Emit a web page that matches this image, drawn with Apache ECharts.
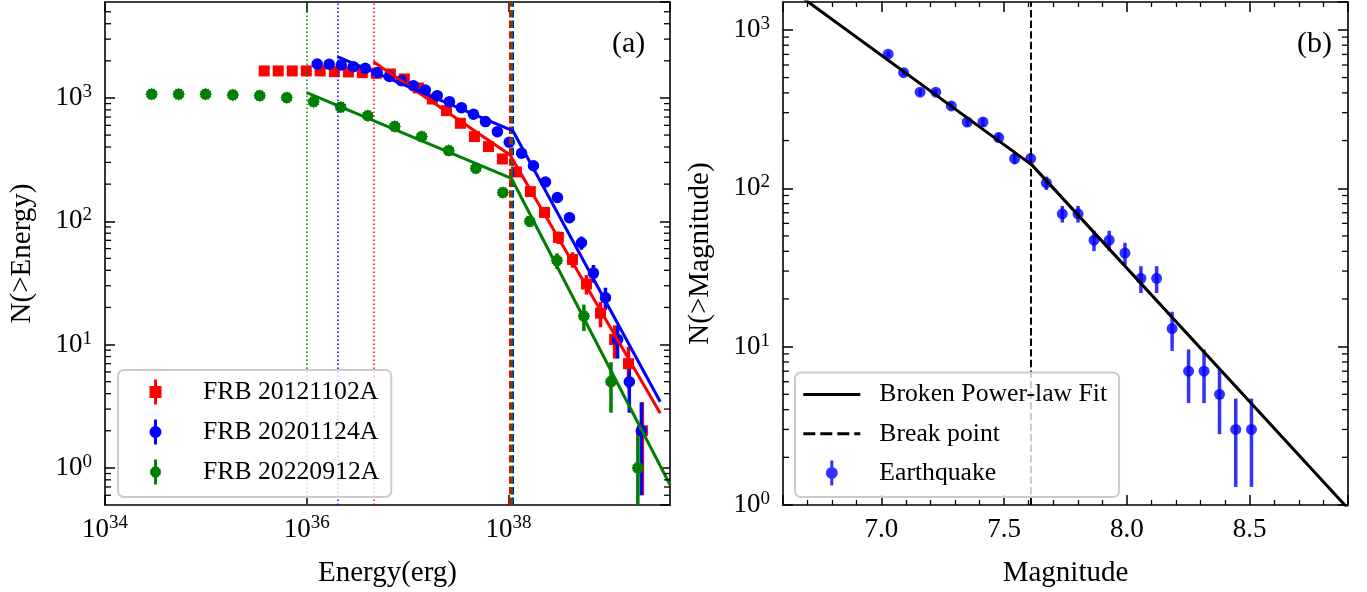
<!DOCTYPE html>
<html>
<head>
<meta charset="utf-8">
<script src="https://cdn.jsdelivr.net/npm/echarts@6/dist/echarts.min.js"></script>
<style>
html, body { margin: 0; padding: 0; background: #fff; }
#chart { width: 1367px; height: 592px; }
</style>
</head>
<body>
<div id="chart"></div>
<script>
// ---------- panel (a): cumulative energy distributions ----------
const redEnergy = [3.79e35, 5.22e35, 7.19e35, 9.91e35, 1.36e36, 1.88e36, 2.59e36, 3.56e36, 4.90e36, 6.75e36,
  9.29e36, 1.28e37, 1.76e37, 2.43e37, 3.34e37, 4.60e37, 6.34e37, 8.71e37, 1.20e38, 1.65e38,
  2.28e38, 3.13e38, 4.32e38, 5.94e38, 8.18e38, 1.13e39, 1.55e39, 2.13e39]
const redCount = [1656, 1656, 1656, 1656, 1656, 1634, 1625, 1604, 1585, 1565,
  1426, 1205, 981, 789, 623, 486, 403, 320, 251, 174,
  118, 74, 49, 31, 18, 11, 7, 2]
const redErr = [40.7, 40.7, 40.7, 40.7, 40.7, 40.4, 40.3, 40.0, 39.8, 39.6,
  37.8, 34.7, 31.3, 28.1, 25.0, 22.0, 20.1, 17.9, 15.8, 13.2,
  10.9, 8.6, 7.0, 5.6, 4.2, 3.3, 2.6, 1.4]

const blueEnergy = [1.27e36, 1.67e36, 2.20e36, 2.90e36, 3.81e36, 5.01e36, 6.59e36, 8.67e36, 1.14e37, 1.50e37,
  1.97e37, 2.60e37, 3.42e37, 4.50e37, 5.92e37, 7.78e37, 1.02e38, 1.35e38, 1.77e38, 2.33e38,
  3.06e38, 4.03e38, 5.30e38, 6.97e38, 9.16e38, 1.21e39, 1.58e39, 2.08e39]
const blueCount = [1887, 1877, 1852, 1794, 1741, 1610, 1494, 1381, 1258, 1161,
  1044, 933, 834, 738, 643, 533, 437, 356, 282, 208,
  156, 107, 67, 38, 24, 11, 5, 2]
const blueErr = [43.4, 43.3, 43.0, 42.4, 41.7, 40.1, 38.7, 37.2, 35.5, 34.1,
  32.3, 30.5, 28.9, 27.2, 25.4, 23.1, 20.9, 18.9, 16.8, 14.4,
  12.5, 10.3, 8.2, 6.2, 4.9, 3.3, 2.2, 1.4]

const greenEnergy = [2.90e34, 5.37e34, 9.95e34, 1.85e35, 3.42e35, 6.34e35, 1.17e36, 2.17e36, 4.03e36, 7.46e36,
  1.38e37, 2.56e37, 4.75e37, 8.81e37, 1.63e38, 3.03e38, 5.60e38, 1.04e39, 1.92e39]
const greenCount = [1072, 1072, 1072, 1058, 1044, 1005, 933, 841, 718, 587,
  486, 374, 269, 171, 100, 48, 17, 5, 1]
const greenErr = [32.7, 32.7, 32.7, 32.5, 32.3, 31.7, 30.5, 29.0, 26.8, 24.2,
  22.0, 19.3, 16.4, 13.1, 10.0, 6.9, 4.1, 2.2, 1.0]

// broken power-law fits: [start, break, end]
const redFitE = [4.58e36, 1.04e38, 3.2e39]
const redFitN = [1968, 345, 2.77]
const blueFitE = [2.01e36, 1.11e38, 3.2e39]
const blueFitN = [2163, 540, 3.44]
const greenFitE = [1.0e36, 1.07e38, 4.0e39]
const greenFitN = [1104, 223, 0.73]

// ---------- panel (b): earthquakes ----------
const quakeMag = [7.028, 7.091, 7.158, 7.222, 7.285, 7.350, 7.414, 7.478, 7.543, 7.608,
  7.672, 7.737, 7.801, 7.866, 7.928, 7.992, 8.057, 8.121, 8.184, 8.251,
  8.314, 8.377, 8.443, 8.507]
const quakeCount = [702, 537, 404, 404, 331, 262, 262, 209, 154, 154,
  108, 69, 69, 47, 47, 39, 27, 27, 13, 7,
  7, 5, 3, 3]
const quakeErr = [26.5, 23.2, 20.1, 20.1, 18.2, 16.2, 16.2, 14.5, 12.4, 12.4,
  10.4, 8.3, 8.3, 6.9, 6.9, 6.2, 5.2, 5.2, 3.6, 2.6,
  2.6, 2.2, 1.7, 1.7]
const quakeFitM = [6.6, 7.614, 8.9]
const quakeFitN = [1960, 140, 0.95]
const quakeBreak = 7.614

// minor tick values of the log y axes
const minorA = [0.6, 0.7, 0.8, 0.9, 2, 3, 4, 5, 6, 7, 8, 9, 20, 30, 40, 50, 60, 70, 80, 90,
  200, 300, 400, 500, 600, 700, 800, 900, 2000, 3000, 4000, 5000]
const minorB = [2, 3, 4, 5, 6, 7, 8, 9, 20, 30, 40, 50, 60, 70, 80, 90,
  200, 300, 400, 500, 600, 700, 800, 900]

const FONT = "'Liberation Serif', 'DejaVu Serif', serif"
const RED = '#ff0000', BLUE = '#0000ff', GREEN = '#008000', QUAKE = 'rgba(0,0,255,0.8)'

function gearPath(cx, cy, r1, r2, n) {
  let d = ''
  for (let i = 0; i < 2 * n; i++) {
    const a = Math.PI * i / n
    const r = i % 2 ? r2 : r1
    d += (i ? 'L' : 'M') + (cx + r * Math.sin(a)).toFixed(2) + ',' + (cy - r * Math.cos(a)).toFixed(2)
  }
  return d + 'Z'
}
const gearSymbol = 'path://' + gearPath(6, 6, 6, 5.1, 12)
const iconSquare = 'path://M4.5,0H7.5V6.5H12V18.5H7.5V25H4.5V18.5H0V6.5H4.5Z'
const iconCircle = 'path://M4.5,0H7.5V25H4.5Z M0,12.5A6,6 0 1 1 12,12.5A6,6 0 1 1 0,12.5Z'
const iconGear = 'path://M4.5,0H7.5V25H4.5Z ' + gearPath(6, 12.5, 6, 5.1, 12)
const iconLine = 'path://M0,0H57V3H0Z'
const iconDash = 'path://M0,0H12V3H0Z M17,0H29V3H17Z M34,0H46V3H34Z M51,0H57V3H51Z'

function powLabel(v) {
  return '{b|10}{s|' + Math.round(Math.log10(v)) + '}'
}
const powRich = {
  b: {fontFamily: FONT, fontSize: 27, color: '#000'},
  s: {fontFamily: FONT, fontSize: 19, color: '#000', padding: [0, 0, 12, 0]}
}

function errRender(color) {
  return function(params, api) {
    const cs = params.coordSys
    const x = api.value(0), lo = api.value(1), hi = api.value(2)
    const p1 = api.coord([x, hi])
    let y2 = lo > 0 ? api.coord([x, lo])[1] : cs.y + cs.height
    y2 = Math.min(y2, cs.y + cs.height)
    return {
      type: 'line',
      shape: {x1: p1[0], y1: Math.max(p1[1], cs.y), x2: p1[0], y2: y2},
      style: {stroke: color, lineWidth: 3.5}
    }
  }
}
function errData(xs, ns, es) {
  return xs.map((x, i) => [x, ns[i] - es[i], ns[i] + es[i]])
}
function minorRender(params, api) {
  const cs = params.coordSys
  const y = api.coord([api.value(0), api.value(1)])[1]
  const st = {stroke: '#000', lineWidth: 1.3}
  return {type: 'group', children: [
    {type: 'line', shape: {x1: cs.x, y1: y, x2: cs.x + 6, y2: y}, style: st},
    {type: 'line', shape: {x1: cs.x + cs.width, y1: y, x2: cs.x + cs.width - 6, y2: y}, style: st}
  ]}
}
function pairs(xs, ys) {
  return xs.map((x, i) => [x, ys[i]])
}

const axisLine = {show: true, onZero: false, lineStyle: {color: '#000', width: 1.6}}
const majorTick = {show: true, inside: true, length: 10, lineStyle: {color: '#000', width: 1.5}}
const nameStyle = {fontFamily: FONT, fontSize: 29, color: '#000'}

function logX(pos, showLabel) {
  return {
    gridIndex: 0, type: 'log', logBase: 100, min: 1e34, max: 4e39, position: pos,
    axisLine: axisLine, axisTick: majorTick, splitLine: {show: false},
    axisLabel: {show: showLabel, formatter: powLabel, rich: powRich, margin: 9, showMinLabel: true, showMaxLabel: false},
    name: showLabel ? 'Energy(erg)' : '', nameLocation: 'middle', nameGap: 54, nameMoveOverlap: false,
    nameTextStyle: nameStyle
  }
}
function logYA(pos, showLabel) {
  return {
    gridIndex: 0, type: 'log', min: 0.5, max: 6000, position: pos,
    axisLine: axisLine, axisTick: majorTick, splitLine: {show: false},
    axisLabel: {show: showLabel, formatter: powLabel, rich: powRich, margin: 13, showMinLabel: false, showMaxLabel: false},
    name: showLabel ? 'N(>Energy)' : '', nameLocation: 'middle', nameGap: 68, nameMoveOverlap: false,
    nameTextStyle: nameStyle
  }
}
function linXB(pos, showLabel) {
  return {
    gridIndex: 1, type: 'value', min: 6.6, max: 8.9, position: pos,
    axisLine: axisLine, axisTick: majorTick, splitLine: {show: false},
    minorTick: {show: true, splitNumber: 5, length: 5, lineStyle: {color: '#000', width: 1.3}},
    minorSplitLine: {show: false},
    axisLabel: {show: showLabel, formatter: v => v.toFixed(1), fontFamily: FONT, fontSize: 27, color: '#000',
      margin: 11, showMinLabel: false, showMaxLabel: false},
    name: showLabel ? 'Magnitude' : '', nameLocation: 'middle', nameGap: 54, nameMoveOverlap: false,
    nameTextStyle: nameStyle
  }
}
function logYB(pos, showLabel) {
  return {
    gridIndex: 1, type: 'log', min: 1, max: 1500, position: pos,
    axisLine: axisLine, axisTick: majorTick, splitLine: {show: false},
    axisLabel: {show: showLabel, formatter: powLabel, rich: powRich, margin: 13, showMinLabel: true, showMaxLabel: false},
    name: showLabel ? 'N(>Magnitude)' : '', nameLocation: 'middle', nameGap: 68, nameMoveOverlap: false,
    nameTextStyle: nameStyle
  }
}

function fitSeries(name, color, xs, ys, emin, ebreak) {
  return {
    name: name, type: 'line', xAxisIndex: 0, yAxisIndex: 0, data: pairs(xs, ys),
    symbol: 'none', z: 5, color: color, lineStyle: {color: color, width: 3},
    markLine: {
      symbol: 'none', silent: true, label: {show: false}, animation: false,
      data: [
        {xAxis: emin, lineStyle: {color: color, width: 1.5, type: [1.5, 2.5]}},
        {xAxis: ebreak, lineStyle: {color: color, width: 2, type: [7.4, 3.2]}}
      ]
    }
  }
}

const legendBox = {
  orient: 'vertical', itemWidth: 57, itemHeight: 25, selectedMode: false, align: 'left', z: 20,
  backgroundColor: 'rgba(255,255,255,0.8)', borderColor: '#cccccc', borderWidth: 2, borderRadius: 6,
  textStyle: {fontFamily: FONT, fontSize: 25.7, lineHeight: 25, color: '#000', padding: [0, 0, 0, 14]}
}

const option = {
  animation: false,
  backgroundColor: '#fff',
  title: [
    {text: '(a)', left: 612, top: 29, padding: 0, textStyle: {fontFamily: FONT, fontSize: 30, fontWeight: 'normal', color: '#000'}},
    {text: '(b)', left: 1297, top: 29, padding: 0, textStyle: {fontFamily: FONT, fontSize: 30, fontWeight: 'normal', color: '#000'}}
  ],
  grid: [
    {left: 105, top: 2, width: 565, height: 503, outerBoundsMode: 'none'},
    {left: 783, top: 2, width: 565, height: 503, outerBoundsMode: 'none'}
  ],
  legend: [
    // the icon's bounding box starts at its visible part, so the left padding reaches it
    Object.assign({}, legendBox, {
      left: 118, top: 370, itemGap: 14, padding: [9, 12, 12, 31.5],
      data: [
        {name: 'FRB 20121102A', icon: iconSquare},
        {name: 'FRB 20201124A', icon: iconCircle},
        {name: 'FRB 20220912A', icon: iconGear}
      ]
    }),
    Object.assign({}, legendBox, {
      left: 795, top: 372.5, itemGap: 13.3, padding: [9, 12, 11, 8.3],
      data: [
        {name: 'Broken Power-law Fit', icon: iconLine},
        {name: 'Break point', icon: iconDash},
        {name: 'Earthquake', icon: iconCircle}
      ]
    })
  ],
  xAxis: [logX('bottom', true), logX('top', false), linXB('bottom', true), linXB('top', false)],
  yAxis: [logYA('left', true), logYA('right', false), logYB('left', true), logYB('right', false)],
  series: [
    {name: 'errRed', type: 'custom', xAxisIndex: 0, yAxisIndex: 0, renderItem: errRender(RED),
      data: errData(redEnergy, redCount, redErr), z: 2, silent: true, clip: false},
    {name: 'FRB 20121102A', type: 'scatter', xAxisIndex: 0, yAxisIndex: 0, data: pairs(redEnergy, redCount),
      symbol: 'rect', symbolSize: 11, itemStyle: {color: RED, opacity: 1}, z: 3},
    {name: 'errBlue', type: 'custom', xAxisIndex: 0, yAxisIndex: 0, renderItem: errRender(BLUE),
      data: errData(blueEnergy, blueCount, blueErr), z: 2, silent: true, clip: false},
    {name: 'FRB 20201124A', type: 'scatter', xAxisIndex: 0, yAxisIndex: 0, data: pairs(blueEnergy, blueCount),
      symbol: 'circle', symbolSize: 11.5, itemStyle: {color: BLUE, opacity: 1}, z: 3},
    {name: 'errGreen', type: 'custom', xAxisIndex: 0, yAxisIndex: 0, renderItem: errRender(GREEN),
      data: errData(greenEnergy, greenCount, greenErr), z: 2, silent: true, clip: false},
    {name: 'FRB 20220912A', type: 'scatter', xAxisIndex: 0, yAxisIndex: 0, data: pairs(greenEnergy, greenCount),
      symbol: gearSymbol, symbolSize: 12.5, itemStyle: {color: GREEN, opacity: 1}, z: 3},
    fitSeries('fitRed', RED, redFitE, redFitN, redFitE[0], redFitE[1]),
    fitSeries('fitBlue', BLUE, blueFitE, blueFitN, blueFitE[0], blueFitE[1]),
    fitSeries('fitGreen', GREEN, greenFitE, greenFitN, greenFitE[0], greenFitE[1]),
    {name: 'minorA', type: 'custom', xAxisIndex: 0, yAxisIndex: 0, renderItem: minorRender,
      data: minorA.map(v => [1e35, v]), silent: true, clip: false, z: 6},

    {name: 'errQuake', type: 'custom', xAxisIndex: 2, yAxisIndex: 2, renderItem: errRender(QUAKE),
      data: errData(quakeMag, quakeCount, quakeErr), z: 2, silent: true, clip: false},
    {name: 'Earthquake', type: 'scatter', xAxisIndex: 2, yAxisIndex: 2, data: pairs(quakeMag, quakeCount),
      symbol: 'circle', symbolSize: 11, itemStyle: {color: QUAKE, opacity: 1}, z: 3},
    {name: 'Broken Power-law Fit', type: 'line', xAxisIndex: 2, yAxisIndex: 2, data: pairs(quakeFitM, quakeFitN),
      symbol: 'none', color: '#000', lineStyle: {color: '#000', width: 3}, z: 4},
    {name: 'Break point', type: 'line', xAxisIndex: 2, yAxisIndex: 2, data: [], color: '#000', symbol: 'none',
      markLine: {symbol: 'none', silent: true, label: {show: false}, animation: false,
        data: [{xAxis: quakeBreak, lineStyle: {color: '#000', width: 2, type: [7.4, 3.2]}}]}},
    {name: 'minorB', type: 'custom', xAxisIndex: 2, yAxisIndex: 2, renderItem: minorRender,
      data: minorB.map(v => [7, v]), silent: true, clip: false, z: 6}
  ]
}

let myChart = echarts.init(document.getElementById('chart'), null, {renderer: 'canvas'})
myChart.setOption(option)
</script>
</body>
</html>
